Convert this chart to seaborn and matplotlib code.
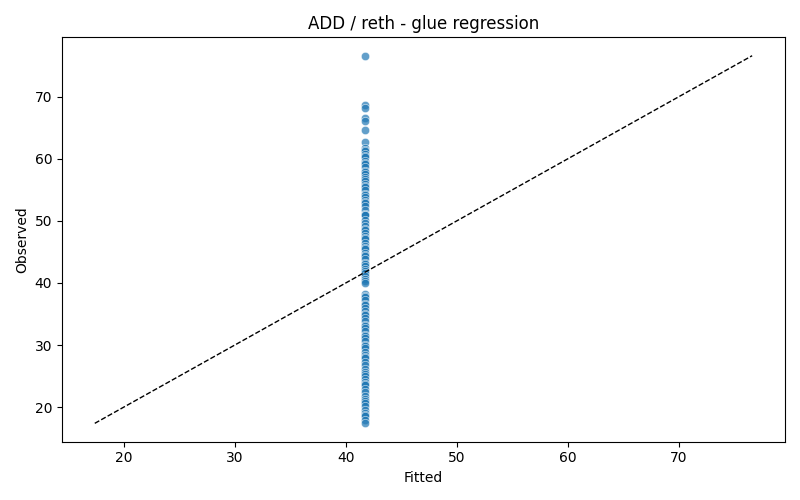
import matplotlib
matplotlib.use("Agg")
import matplotlib.pyplot as plt
import seaborn as sns
import pandas as pd

# fitted value is the same for every sample (intercept-only fit)
fitted_value = 41.75

observed_upper = [76.6, 68.6, 68.1, 66.6, 66.1, 64.7, 62.7,
                  61.7, 61.4, 61.2, 60.8, 60.5, 60.3, 59.6, 59.3, 59.1, 58.7,
                  58.0, 57.8, 57.6, 57.1, 56.8, 56.5, 55.9, 55.6, 55.4, 55.0,
                  54.4, 54.2, 53.8, 53.3, 53.0, 52.9, 52.4, 51.8, 51.1, 51.0,
                  50.9, 50.2, 49.6, 49.1, 48.7, 48.5, 48.0, 47.5, 47.3, 47.1,
                  46.5, 45.9, 45.7, 45.4, 44.9, 44.5, 44.3, 43.8, 43.2, 43.0,
                  42.7, 42.2, 42.0, 41.6, 41.1, 40.6, 40.3, 40.0]
observed_lower = [38.2, 37.9, 37.7, 37.2, 36.6, 36.4, 36.0, 35.5, 35.0, 34.8,
                  34.4, 33.9, 33.3, 33.0, 32.8, 32.2, 31.7, 31.4, 31.2, 30.6,
                  30.0, 29.8, 29.5, 28.9, 28.4, 28.1, 27.9, 27.3, 26.8, 26.2,
                  25.6, 25.3, 25.1, 24.6, 24.0, 23.7, 23.5, 22.9, 22.4, 21.8,
                  21.3, 21.0, 20.7, 20.2, 19.6, 19.1, 18.8, 18.6, 18.0, 17.4]

observed = observed_upper + observed_lower
df = pd.DataFrame({"fitted": [fitted_value] * len(observed), "observed": observed})

fig, ax = plt.subplots(figsize=(8, 5), dpi=100)
sns.scatterplot(data=df, x="fitted", y="observed", alpha=0.7, s=36, ax=ax)

lo, hi = min(observed), max(observed)
ax.plot([lo, hi], [lo, hi], "k--", linewidth=1)

ax.set_xlabel("Fitted")
ax.set_ylabel("Observed")
ax.set_title("ADD / reth - glue regression")
fig.tight_layout()
fig.savefig("out.png")
